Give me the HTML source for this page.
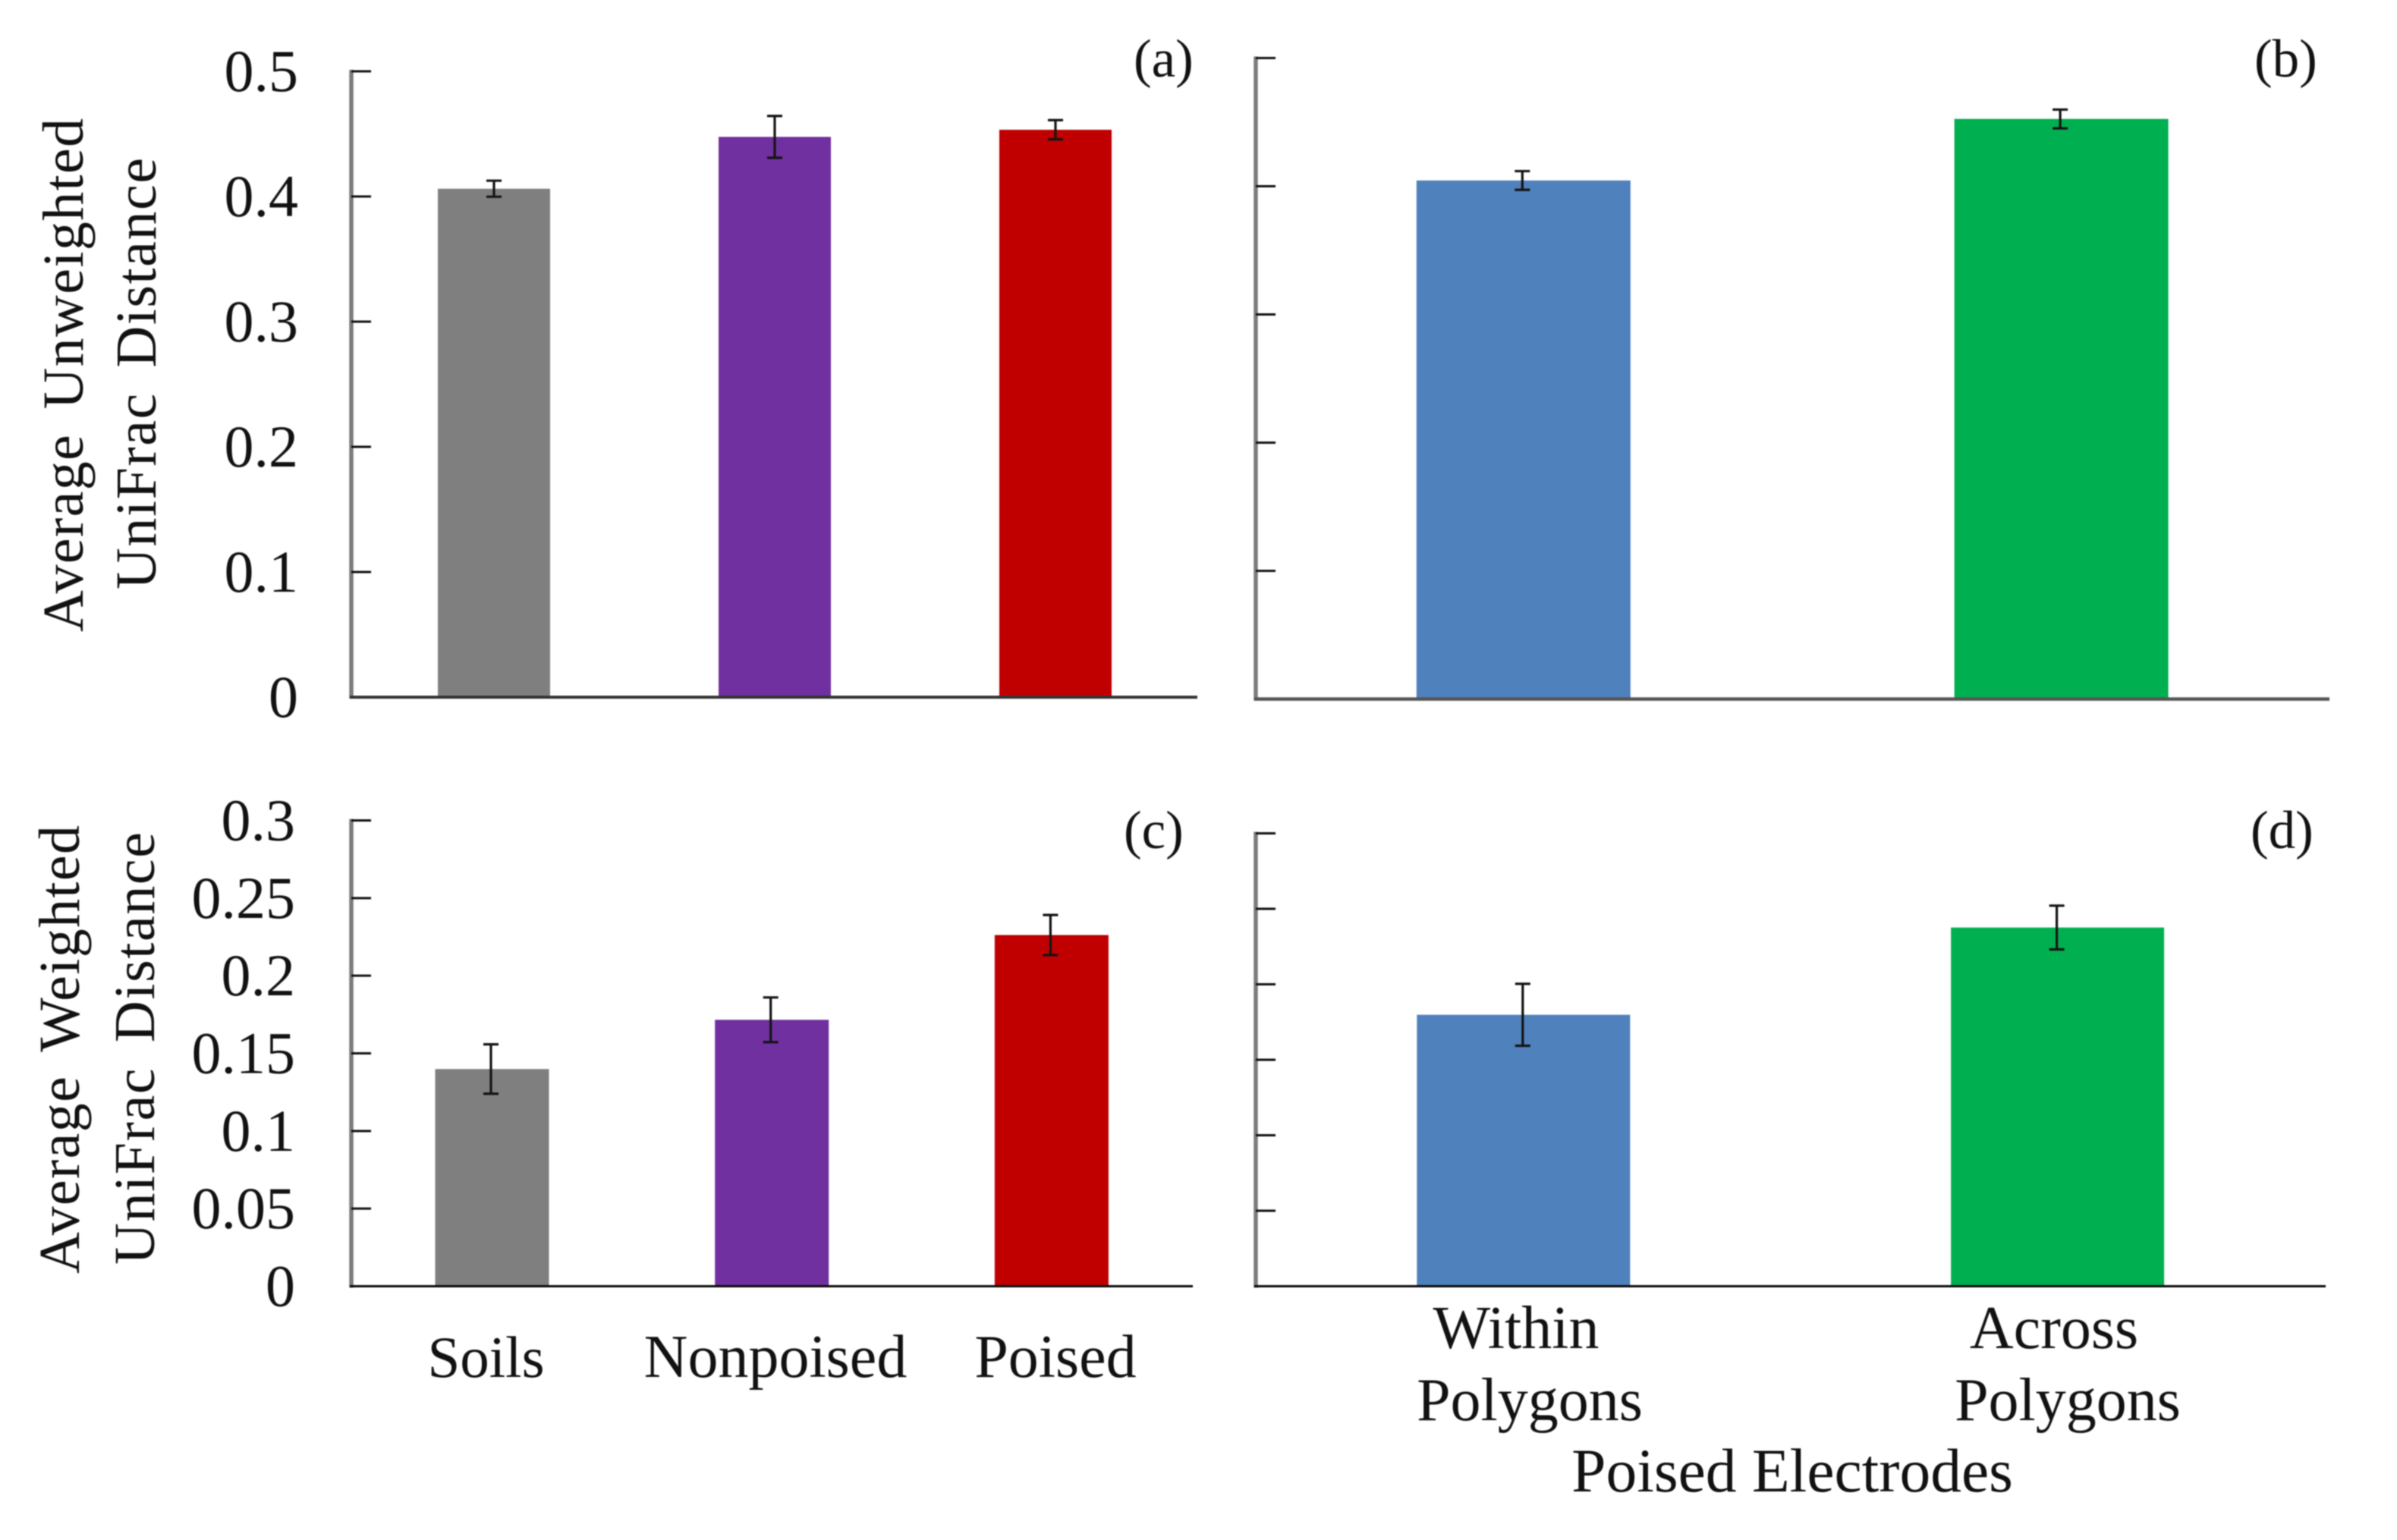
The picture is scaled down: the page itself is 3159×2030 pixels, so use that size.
<!DOCTYPE html>
<html lang="en">
<head>
<meta charset="utf-8">
<title>UniFrac Distance Bar Charts</title>
<style>
  html, body { margin: 0; padding: 0; background: #fff; }
  body { width: 3159px; height: 2030px; overflow: hidden; }
  svg { display: block; filter: blur(0.9px); }
  text { font-family: "Liberation Serif", "Times New Roman", serif; fill: #111; }
</style>
</head>
<body>
<svg id="figure" xmlns="http://www.w3.org/2000/svg" width="3159" height="2030" viewBox="0 0 3159 2030">
  <rect x="0" y="0" width="3159" height="2030" fill="#ffffff"/>

  <text transform="translate(109,833) rotate(-90)" font-size="76" word-spacing="12" textLength="677" lengthAdjust="spacing">Average Unweighted</text>
  <text transform="translate(205,777) rotate(-90)" font-size="76" word-spacing="12" textLength="569" lengthAdjust="spacing">UniFrac Distance</text>
  <text transform="translate(104,1679) rotate(-90)" font-size="76" word-spacing="12" textLength="591" lengthAdjust="spacing">Average Weighted</text>
  <text transform="translate(203,1667) rotate(-90)" font-size="76" word-spacing="12" textLength="570" lengthAdjust="spacing">UniFrac Distance</text>

  <text x="1494" y="101" font-size="71">(a)</text>
  <text x="2971" y="101" font-size="71">(b)</text>
  <text x="1481" y="1118" font-size="71">(c)</text>
  <text x="2966" y="1118" font-size="71">(d)</text>

  <text x="640.5" y="1815" font-size="77" text-anchor="middle">Soils</text>
  <text x="1022" y="1815" font-size="80" text-anchor="middle">Nonpoised</text>
  <text x="1391" y="1815" font-size="80" text-anchor="middle">Poised</text>
  <text x="1998" y="1777" font-size="80" text-anchor="middle">Within</text>
  <text x="2016" y="1872" font-size="80" text-anchor="middle">Polygons</text>
  <text x="2707" y="1777" font-size="80" text-anchor="middle">Across</text>
  <text x="2725" y="1872" font-size="80" text-anchor="middle">Polygons</text>
  <text x="2362" y="1966" font-size="81.5" text-anchor="middle">Poised Electrodes</text>
</svg>

<script>
// Panel (a): average unweighted UniFrac distance
const categoriesA = ["Soils", "Nonpoised", "Poised"];
const valuesA = [0.4062, 0.4476, 0.4533];
const errorsA = [0.0064, 0.0167, 0.0077];
const tickValuesA = [0, 0.1, 0.2, 0.3, 0.4, 0.5];
const tickLabelsA = ["0", "0.1", "0.2", "0.3", "0.4", "0.5"];

// Panel (b): poised electrodes, unweighted
const categoriesB = ["Within Polygons", "Across Polygons"];
const valuesB = [0.4045, 0.4525];
const errorsB = [0.0073, 0.0073];
const tickValuesB = [0, 0.1, 0.2, 0.3, 0.4, 0.5];

// Panel (c): average weighted UniFrac distance
const categoriesC = ["Soils", "Nonpoised", "Poised"];
const valuesC = [0.1399, 0.1716, 0.2262];
const errorsC = [0.0159, 0.0144, 0.0129];
const tickValuesC = [0, 0.05, 0.1, 0.15, 0.2, 0.25, 0.3];
const tickLabelsC = ["0", "0.05", "0.1", "0.15", "0.2", "0.25", "0.3"];

// Panel (d): poised electrodes, weighted
const categoriesD = ["Within Polygons", "Across Polygons"];
const valuesD = [0.1798, 0.2376];
const errorsD = [0.0205, 0.0145];
const tickValuesD = [0, 0.05, 0.1, 0.15, 0.2, 0.25, 0.3];

const SVG_NS = "http://www.w3.org/2000/svg";
const figure = document.getElementById("figure");

function add(tag, attrs, parent) {
  const el = document.createElementNS(SVG_NS, tag);
  for (const key in attrs) el.setAttribute(key, attrs[key]);
  parent.appendChild(el);
  return el;
}

function drawPanel(p) {
  const group = add("g", {}, figure);
  
  

  const yScale = v => p.baseY - (v / p.maxValue) * (p.baseY - p.topY);
  const xScale = i => p.firstX + i * p.stepX;

  p.categories.forEach((category, i) => {
    const top = yScale(p.values[i]);
    const bar = add("rect", {
      x: xScale(i) - p.barWidth / 2,
      y: top,
      width: p.barWidth,
      height: p.baseY - top,
      fill: p.colors[i]
    }, group);
    
    

    const ex = xScale(i) + p.errorOffset;
    const hi = yScale(p.values[i] + p.errors[i]);
    const lo = yScale(p.values[i] - p.errors[i]);
    const err = add("path", {
      d: "M" + ex + " " + hi + "V" + lo +
         "M" + (ex - 10) + " " + hi + "H" + (ex + 10) +
         "M" + (ex - 10) + " " + lo + "H" + (ex + 10),
      stroke: "#141414",
      "stroke-width": 3.2,
      fill: "none"
    }, group);
    
    
  });

  const yAxis = add("line", {
    x1: p.axisX, x2: p.axisX, y1: p.topY - 2, y2: p.baseY + 2,
    stroke: "#7c7c7c", "stroke-width": 5.5
  }, group);
  
  

  p.ticks.forEach((tick, i) => {
    const y = yScale(tick);
    const mark = add("line", {
      x1: p.axisX, x2: p.axisX + 26, y1: y, y2: y,
      stroke: "#111", "stroke-width": 3
    }, group);
    
    

    if (p.tickLabels) {
      const label = add("text", {
        x: p.labelRightX, y: y + 26,
        "font-size": 78, "text-anchor": "end"
      }, group);
      label.textContent = p.tickLabels[i];
      
      
    }
  });

  const xAxis = add("line", {
    x1: p.axisX - 2, x2: p.axisEndX, y1: p.baseY, y2: p.baseY,
    stroke: p.baseColor, "stroke-width": p.baseWidth
  }, group);
  
  
}

const threeColors = ["#7f7f7f", "#7030a0", "#c00000"];
const twoColors = ["#4f81bd", "#00b050"];

drawPanel({ id: "a", categories: categoriesA, values: valuesA, errors: errorsA,
  ticks: tickValuesA, tickLabels: tickLabelsA, maxValue: 0.5, colors: threeColors,
  axisX: 463, axisEndX: 1578, topY: 94, baseY: 919, baseColor: "#333", baseWidth: 4,
  firstX: 651, stepX: 370, barWidth: 148, errorOffset: 0, labelRightX: 393 });

drawPanel({ id: "b", categories: categoriesB, values: valuesB, errors: errorsB,
  ticks: tickValuesB, tickLabels: null, maxValue: 0.5, colors: twoColors,
  axisX: 1655, axisEndX: 3070, topY: 76.5, baseY: 921.5, baseColor: "#555", baseWidth: 4.5,
  firstX: 2007.8, stepX: 708.8, barWidth: 282, errorOffset: -1.5, labelRightX: 0 });

drawPanel({ id: "c", categories: categoriesC, values: valuesC, errors: errorsC,
  ticks: tickValuesC, tickLabels: tickLabelsC, maxValue: 0.3, colors: threeColors,
  axisX: 463, axisEndX: 1572, topY: 1081.5, baseY: 1695.5, baseColor: "#0a0a0a", baseWidth: 3,
  firstX: 648.5, stepX: 368.7, barWidth: 150, errorOffset: -1.5, labelRightX: 389 });

drawPanel({ id: "d", categories: categoriesD, values: valuesD, errors: errorsD,
  ticks: tickValuesD, tickLabels: null, maxValue: 0.3, colors: twoColors,
  axisX: 1655, axisEndX: 3065, topY: 1098.5, baseY: 1695.5, baseColor: "#0a0a0a", baseWidth: 3,
  firstX: 2007.8, stepX: 703.8, barWidth: 281, errorOffset: -1, labelRightX: 0 });
</script>
</body>
</html>
